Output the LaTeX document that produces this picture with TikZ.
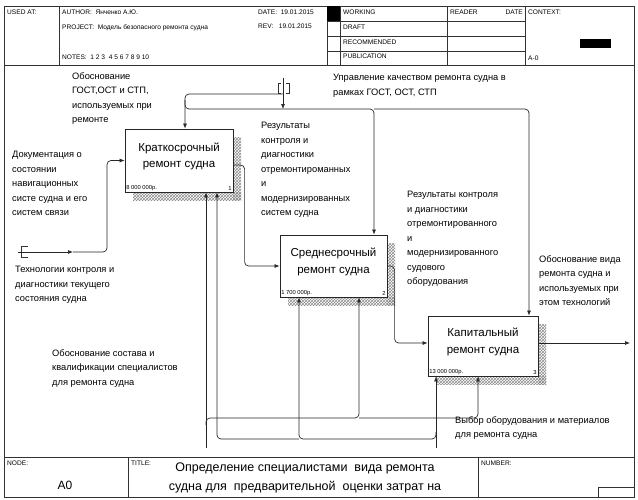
\documentclass[tikz,border=0pt]{standalone}
\usepackage{fontspec}
\setmainfont{Liberation Sans}
\usetikzlibrary{arrows.meta,patterns,calc}
\tikzset{
  frameline/.style={line width=0.8pt, draw=black!80},
  thin line/.style={line width=0.5pt, draw=black!80},
  fnbox/.style={draw=black!85, line width=0.8pt, fill=white, inner sep=0pt},
  fnshadow/.style={pattern=crosshatch, pattern color=black!45, draw=none},
  conn/.style={line width=0.7pt, draw=black!85, rounded corners=4pt},
  arr/.style={conn, -{Latex[length=5pt,width=4pt]}},
  hdr/.style={font=\fontsize{6.6}{8}\selectfont, inner sep=0pt, anchor=north west},
  lbl/.style={font=\fontsize{9.3}{14.5}\selectfont, inner sep=0pt, anchor=north west, align=left},
  fntitle/.style={font=\fontsize{11.5}{16.5}\selectfont, inner sep=0pt, align=center},
  cost/.style={font=\fontsize{5.8}{6}\selectfont, inner sep=1.5pt},
}
\begin{document}
\begin{tikzpicture}[x=1pt,y=-1pt]
\useasboundingbox (0,0) rectangle (638,499);
% ---------- outer frame, header, footer ----------
\draw[frameline] (4,6) rectangle (634,497);
\draw[frameline] (4,65) -- (634,65);
\draw[thin line] (59,6) -- (59,65);
\draw[thin line] (327,6) -- (327,65);
\draw[thin line] (340,6) -- (340,65);
\draw[thin line] (447,6) -- (447,65);
\draw[thin line] (525,6) -- (525,65);
\draw[thin line] (327,21) -- (525,21);
\draw[thin line] (327,36) -- (525,36);
\draw[thin line] (327,51) -- (525,51);
\fill[black] (327,6) rectangle (340,21);
\fill[black] (580,39) rectangle (611,48);
\node[hdr] (usedat) at (7,10) {USED AT:};
\node[hdr] (author) at (62,10) {AUTHOR:\ \ Янченко А.Ю.};
\node[hdr] (project) at (62,24) {PROJECT:\ \ Модель безопасного ремонта судна};
\node[hdr] (notes) at (62,55) {NOTES:\ \ 1\ 2\ 3\ \ 4\ 5\ 6\ 7\ 8\ 9\ 10};
\node[hdr] (date) at (258,10) {DATE:\ \ 19.01.2015};
\node[hdr] (rev) at (258,24) {REV:\ \ \ 19.01.2015};
\node[hdr] (working) at (343,10) {WORKING};
\node[hdr] (draft) at (343,25) {DRAFT};
\node[hdr] (recom) at (343,40) {RECOMMENDED};
\node[hdr] (public) at (343,54) {PUBLICATION};
\node[hdr] (reader) at (450,10) {READER};
\node[hdr, anchor=north east] (rdate) at (523,10) {DATE};
\node[hdr] (context) at (528,10) {CONTEXT:};
\node[hdr] (aminus) at (528,56) {A-0};
% footer
\draw[frameline] (4,457) -- (634,457);
\draw[thin line] (128,457) -- (128,497);
\draw[thin line] (478,457) -- (478,497);
\draw[thin line] (634,487) -- (598,487) -- (598,497);
\node[hdr] (nodelbl) at (7,461) {NODE:};
\node[hdr] (titlelbl) at (131,461) {TITLE:};
\node[hdr] (numberlbl) at (481,461) {NUMBER:};
\node[font=\fontsize{12}{14}\selectfont, inner sep=0pt] (a0) at (65,485) {A0};
\node[font=\fontsize{12.5}{19}\selectfont, inner sep=0pt, align=center] (title) at (305,477.5)
  {Определение специалистами\ \ вида ремонта\\судна для\ \ предварительной\ \ оценки затрат на};
% ---------- shadows ----------
\fill[fnshadow] (233,137) rectangle (241,200);
\fill[fnshadow] (133,192) rectangle (241,200);
\fill[fnshadow] (387,243) rectangle (395,305);
\fill[fnshadow] (288,297) rectangle (395,305);
\fill[fnshadow] (538,324) rectangle (546,384);
\fill[fnshadow] (436,376) rectangle (546,384);
% ---------- function boxes ----------
\node[fnbox, minimum width=108pt, minimum height=63pt] (b1) at (179,160.5) {};
\node[fnbox, minimum width=107pt, minimum height=62pt] (b2) at (333.5,266) {};
\node[fnbox, minimum width=110pt, minimum height=60pt] (b3) at (483,346) {};
\node[fntitle] (t1) at ([yshift=4pt]b1.center) {Краткосрочный\\ремонт судна};
\node[fntitle] (t2) at ([yshift=4pt]b2.center) {Среднесрочный\\ремонт судна};
\node[fntitle] (t3) at ([yshift=4pt]b3.center) {Капитальный\\ремонт судна};
\node[cost, anchor=south west] (c1) at (b1.south west) {8 000 000р.};
\node[cost, anchor=south east] (n1) at (b1.south east) {1};
\node[cost, anchor=south west] (c2) at (b2.south west) {1 700 000р.};
\node[cost, anchor=south east] (n2) at (b2.south east) {2};
\node[cost, anchor=south west] (c3) at (b3.south west) {13 000 000р.};
\node[cost, anchor=south east] (n3) at (b3.south east) {3};
% ---------- inputs ----------
\coordinate (in1) at (18,252);
\coordinate (in1mid) at (73,252);
\coordinate (in1bend) at (107,252);
\draw[thin line] (28,246) -- (21,246) -- (21,257) -- (28,257);
\draw[arr] (in1) -- (in1mid);
\draw[arr] (in1mid) -- (in1bend) |- (b1.west);
% ---------- box to box ----------
\draw[arr] ([yshift=-4.5pt]b1.east) -| ([xshift=-35pt]b2.west) -- (b2.west);
\draw[arr] (b2.east) -| ([xshift=-33pt,yshift=3pt]b3.west) -- ([yshift=3pt]b3.west);
% ---------- output ----------
\coordinate (out3) at (630,343);
\draw[arr] ([yshift=3pt]b3.east) -- (out3);
% ---------- controls ----------
\coordinate (ctop) at (283,78);
\coordinate (cjoin) at (283,94);
\coordinate (cbus) at (283,109);
\coordinate (csplit) at (185,100);
\coordinate (c2bend) at (374,109);
\draw[thin line] (281,83) -- (278,83) -- (278,93) -- (281,93);
\draw[thin line] (286,83) -- (289,83) -- (289,93) -- (286,93);
\draw[arr] (ctop) -- (cbus);
\draw[arr] (cjoin) -| ([xshift=6pt]b1.north);
\draw[arr] (csplit) |- (c2bend) -- ([xshift=40.5pt]b2.north);
\draw[arr] (c2bend) -- (529,109) -- ([xshift=46pt]b3.north);
% ---------- mechanisms ----------
\coordinate (m1) at (206,448);
\coordinate (m2) at (436,448);
\coordinate (m1split) at (206,425);
\coordinate (m1b2) at (359,418);
\coordinate (m2split) at (436,432);
\coordinate (m2b2) at (299,439);
\draw[arr] (m1) -- ([xshift=27pt]b1.south);
\draw[arr] (m1split) |- (m1b2) -- ([xshift=25.5pt]b2.south);
\draw[arr] (m1b2) -- (478,418) -- ([xshift=-5pt]b3.south);
\draw[arr] (m2) -- ([xshift=-47pt]b3.south);
\draw[arr] (m2split) |- (m2b2) -- ([xshift=-34.5pt]b2.south);
\draw[arr] (m2b2) -- (217,439) -- ([xshift=38pt]b1.south);
% ---------- labels ----------
\node[lbl] (l1) at (72,72) {Обоснование\\ГОСТ,ОСТ и СТП,\\используемых при\\ремонте};
\node[lbl] (l2) at (333,74) {Управление качеством ремонта судна в\\рамках ГОСТ, ОСТ, СТП};
\node[lbl] (l3) at (261,122) {Результаты\\контроля и\\диагностики\\отремонтироманных\\и\\модернизированных\\систем судна};
\node[lbl] (l4) at (12,151) {Документация о\\состоянии\\навигационных\\систе судна и его\\систем связи};
\node[lbl] (l5) at (15,266) {Технологии контроля и\\диагностики текущего\\состояния судна};
\node[lbl] (l6) at (407,191) {Результаты контроля\\и диагностики\\отремонтированного\\и\\модернизированного\\судового\\оборудования};
\node[lbl] (l7) at (539,255) {Обоснование вида\\ремонта судна и\\используемых при\\этом технологий};
\node[lbl] (l8) at (52,349) {Обоснование состава и\\квалификации специалистов\\для ремонта судна};
\node[lbl] (l9) at (455,416) {Выбор оборудования и материалов\\для ремонта судна};
\end{tikzpicture}
\end{document}
